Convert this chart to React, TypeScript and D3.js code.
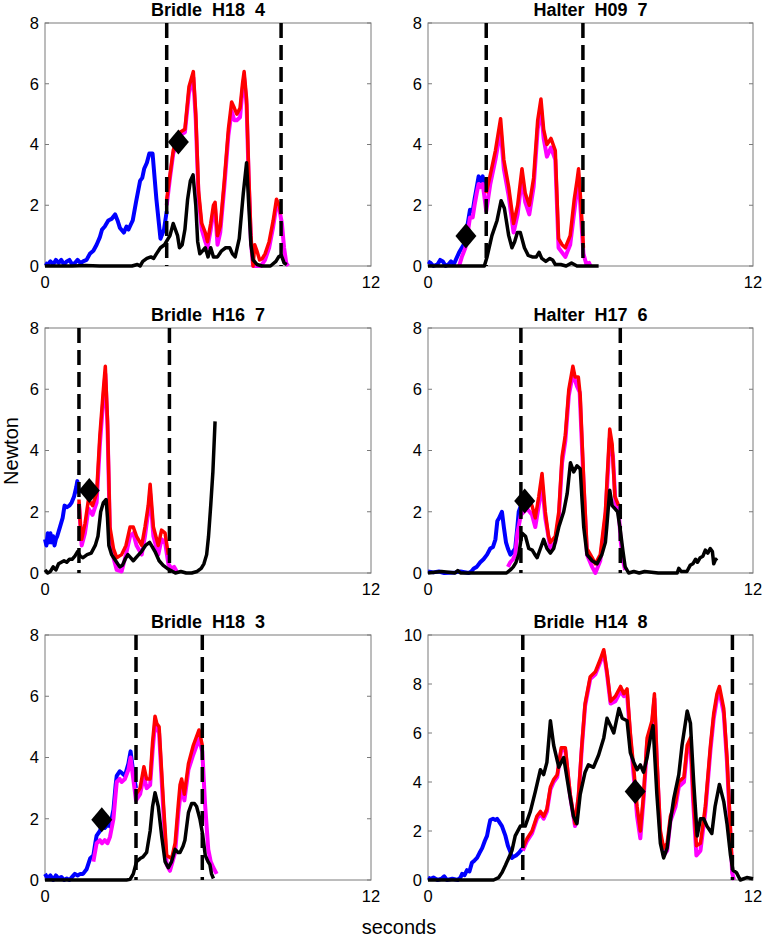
import React from "react";
import * as d3 from "d3";

type Pt = [number, number];

// ---------- data (seconds, Newton) ----------
const titles = ["Bridle  H18  4", "Halter  H09  7", "Bridle  H16  7", "Halter  H17  6", "Bridle  H18  3", "Bridle  H14  8"];
const yMaxes = [8, 8, 8, 8, 8, 10];
const xTicks = [0, 12];

const blue1: Pt[] = [[0,0.1],[0.1,0.05],[0.2,0.15],[0.3,0.05],[0.4,0.2],[0.5,0.1],[0.6,0.2],[0.7,0.05],[0.8,0.15],[0.9,0.2],[1.0,0.05],[1.1,0.1],[1.2,0.2],[1.3,0.1],[1.4,0.15],[1.53,0.2],[1.65,0.4],[1.78,0.5],[1.9,0.7],[2.02,0.95],[2.1,1.2],[2.2,1.3],[2.33,1.5],[2.45,1.55],[2.58,1.7],[2.67,1.5],[2.76,1.25],[2.9,1.1],[3.0,1.3],[3.07,1.2],[3.15,1.35],[3.23,1.5],[3.35,2.1],[3.5,2.8],[3.58,2.9],[3.65,3.2],[3.75,3.4],[3.84,3.7],[3.96,3.7],[4.1,2.2],[4.25,0.9],[4.38,1.2],[4.48,1.8]];
const magenta1: Pt[] = [[4.48,2.0],[4.6,2.9],[4.72,3.7],[4.97,4.3],[5.15,4.4],[5.3,5.7],[5.46,6.2],[5.55,4.8],[5.65,2.3],[5.77,1.2],[5.9,0.8],[5.98,0.6],[6.1,1.2],[6.2,1.8],[6.26,1.9],[6.35,0.7],[6.45,1.1],[6.6,2.6],[6.75,4.3],[6.87,5.1],[6.97,4.8],[7.06,4.8],[7.18,4.9],[7.27,5.8],[7.33,6.2],[7.42,5.3],[7.5,2.8],[7.58,0.8],[7.66,0.0],[7.8,0.0],[7.95,0.0],[8.1,0.2],[8.25,0.6],[8.4,1.3],[8.52,2.0],[8.62,1.9],[8.72,1.4],[8.8,0.6],[8.88,0.1],[8.95,0.0]];
const red1: Pt[] = [[4.48,2.2],[4.6,3.0],[4.72,3.8],[4.85,4.2],[4.97,4.4],[5.15,4.5],[5.3,5.9],[5.46,6.4],[5.55,5.0],[5.65,2.5],[5.77,1.4],[5.9,1.1],[5.98,0.8],[6.1,1.4],[6.2,2.0],[6.26,2.1],[6.35,1.0],[6.45,1.3],[6.6,2.8],[6.75,4.5],[6.87,5.4],[6.97,5.2],[7.06,5.0],[7.18,5.2],[7.27,6.0],[7.33,6.4],[7.42,5.5],[7.5,3.0],[7.58,1.0],[7.66,0.0],[7.72,0.7],[7.8,0.5],[7.9,0.2],[8.0,0.25],[8.1,0.4],[8.25,0.8],[8.4,1.5],[8.52,2.2],[8.62,2.0],[8.69,1.7]];
const black1: Pt[] = [[0,0],[1.0,0],[1.5,0.02],[2.0,0],[3.2,0],[3.4,0.05],[3.5,0.0],[3.6,0.15],[3.75,0.25],[3.9,0.3],[4.0,0.25],[4.1,0.4],[4.25,0.6],[4.4,0.7],[4.5,0.85],[4.6,1.0],[4.72,1.4],[4.8,1.2],[4.88,1.0],[4.95,0.6],[5.05,0.7],[5.15,1.2],[5.25,2.2],[5.35,2.8],[5.45,3.0],[5.55,2.0],[5.62,0.8],[5.7,0.4],[5.8,0.5],[5.9,0.6],[6.0,0.3],[6.1,0.6],[6.2,0.3],[6.35,0.3],[6.5,0.5],[6.65,0.6],[6.8,0.6],[6.9,0.4],[7.0,0.3],[7.15,0.9],[7.3,2.4],[7.42,3.4],[7.5,2.0],[7.58,0.7],[7.66,0.2],[7.8,0.05],[8.0,0.0],[8.3,0.0],[8.5,0.15],[8.6,0.3],[8.7,0.35],[8.8,0.1],[8.9,0.05]];

const blue2: Pt[] = [[0,0.15],[0.1,0.1],[0.2,0.0],[0.35,0.05],[0.45,0.2],[0.55,0.15],[0.65,0.0],[0.75,0.05],[0.85,0.15],[0.95,0.05],[1.05,0.25],[1.15,0.45],[1.25,0.6],[1.38,0.8],[1.45,1.3],[1.55,1.85],[1.65,1.8],[1.72,2.2],[1.8,2.6],[1.87,2.95],[1.95,2.8],[2.02,2.95],[2.08,2.5],[2.15,2.4]];
const magenta2: Pt[] = [[1.15,0.0],[1.25,0.3],[1.38,0.6],[1.45,1.0],[1.55,1.6],[1.65,1.6],[1.72,2.0],[1.8,2.4],[1.87,2.7],[1.95,2.6],[2.02,2.7],[2.08,2.3],[2.15,1.8],[2.3,2.7],[2.49,3.5],[2.68,4.5],[2.8,3.2],[2.98,2.3],[3.16,1.1],[3.31,1.7],[3.47,2.9],[3.59,2.1],[3.74,1.7],[3.9,2.6],[4.05,4.5],[4.17,5.2],[4.27,4.2],[4.39,3.6],[4.54,3.9],[4.7,3.5],[4.82,0.6],[5.07,0.3],[5.25,0.7],[5.5,2.5],[5.56,2.9],[5.68,1.2],[5.74,0.4],[5.85,0.05],[5.95,0.1],[6.0,0.0]];
const red2: Pt[] = [[2.15,2.4],[2.3,3.0],[2.49,3.8],[2.68,4.85],[2.8,3.5],[2.98,2.6],[3.16,1.4],[3.31,2.0],[3.47,3.2],[3.59,2.4],[3.74,2.0],[3.9,2.9],[4.05,4.8],[4.17,5.5],[4.27,4.5],[4.39,4.0],[4.54,4.2],[4.7,3.8],[4.82,0.9],[4.95,0.7],[5.07,0.6],[5.25,1.0],[5.4,2.2],[5.5,2.8],[5.56,3.2],[5.65,2.0],[5.74,0.6]];
const black2: Pt[] = [[0,0],[1.5,0],[2.08,0.0],[2.18,0.3],[2.36,1.0],[2.55,1.5],[2.7,2.15],[2.82,1.9],[2.98,1.0],[3.1,0.6],[3.2,0.8],[3.3,1.1],[3.41,1.1],[3.56,0.6],[3.7,0.35],[3.85,0.3],[4.0,0.3],[4.1,0.45],[4.2,0.25],[4.35,0.15],[4.5,0.25],[4.6,0.2],[4.7,0.05],[4.9,0.05],[5.1,0.0],[5.3,0.1],[5.5,0.0],[6.3,0.0]];

const blue3: Pt[] = [[0,1.1],[0.05,0.9],[0.1,1.3],[0.15,1.0],[0.2,1.3],[0.25,1.0],[0.3,1.2],[0.35,0.9],[0.4,1.1],[0.45,1.2],[0.55,1.5],[0.65,1.8],[0.72,2.2],[0.8,2.15],[0.9,2.2],[0.98,2.3],[1.07,2.5],[1.15,2.8],[1.19,3.0],[1.25,2.6]];
const magenta3: Pt[] = [[1.25,2.3],[1.35,0.9],[1.47,1.3],[1.6,2.1],[1.75,1.9],[1.9,2.3],[2.02,4.2],[2.15,5.7],[2.22,6.5],[2.3,4.8],[2.39,1.3],[2.52,0.5],[2.64,0.1],[2.82,0.05],[2.98,0.6],[3.13,1.2],[3.25,1.3],[3.37,0.9],[3.56,0.6],[3.68,1.2],[3.8,2.0],[3.87,2.6],[3.99,1.2],[4.17,0.6],[4.29,1.1],[4.42,1.0],[4.54,0.3],[4.65,0.15],[4.75,0.2],[4.85,0.05]];
const red3: Pt[] = [[1.25,2.4],[1.3,1.6],[1.35,1.1],[1.47,1.6],[1.6,2.4],[1.75,2.2],[1.9,2.6],[2.02,4.5],[2.15,6.0],[2.22,6.75],[2.3,5.0],[2.39,1.5],[2.52,0.8],[2.64,0.5],[2.82,0.6],[2.98,0.9],[3.13,1.5],[3.25,1.5],[3.37,1.2],[3.56,0.9],[3.68,1.5],[3.8,2.2],[3.87,2.9],[3.99,1.5],[4.17,0.9],[4.29,1.4],[4.42,1.3],[4.54,0.6]];
const black3: Pt[] = [[0,0.1],[0.1,0.0],[0.2,0.05],[0.3,0.2],[0.4,0.1],[0.5,0.3],[0.6,0.35],[0.7,0.4],[0.8,0.35],[0.9,0.45],[1.0,0.45],[1.1,0.55],[1.2,0.7],[1.3,0.55],[1.4,0.5],[1.55,0.6],[1.7,0.65],[1.85,0.9],[1.95,1.2],[2.05,2.0],[2.15,2.3],[2.25,2.4],[2.3,1.8],[2.35,0.9],[2.45,0.6],[2.6,0.4],[2.75,0.2],[2.85,0.25],[2.95,0.45],[3.05,0.6],[3.15,0.5],[3.25,0.4],[3.4,0.55],[3.55,0.7],[3.7,0.9],[3.85,1.0],[3.95,0.85],[4.05,0.7],[4.2,0.4],[4.35,0.25],[4.5,0.15],[4.6,0.1],[4.8,0.0],[5.0,0.05],[5.2,0.0],[5.4,0.0],[5.6,0.05],[5.75,0.15],[5.85,0.3],[5.95,0.6],[6.02,1.2],[6.1,2.2],[6.18,3.3],[6.26,4.95]];

const blue4: Pt[] = [[0,0.05],[0.2,0.02],[0.4,0.05],[0.6,0.0],[1.0,0.02],[1.2,0.05],[1.5,0.0],[1.6,0.05],[1.69,0.15],[1.8,0.2],[1.93,0.35],[2.05,0.45],[2.18,0.6],[2.3,0.8],[2.4,0.85],[2.49,1.1],[2.56,1.7],[2.63,1.8],[2.73,2.0],[2.8,1.5],[2.88,1.0],[2.95,0.8],[3.04,0.6],[3.14,0.7],[3.22,0.8],[3.3,1.5],[3.35,2.0],[3.43,2.2]];
const magenta4: Pt[] = [[2.95,0.2],[3.04,0.35],[3.14,0.45],[3.22,0.6],[3.3,1.3],[3.43,1.9],[3.66,2.1],[3.84,1.9],[3.96,1.5],[4.09,2.2],[4.21,2.9],[4.33,1.8],[4.52,0.8],[4.7,1.0],[4.83,1.8],[4.95,3.6],[5.07,4.3],[5.2,5.8],[5.35,6.5],[5.5,6.1],[5.6,5.9],[5.75,2.8],[5.87,0.6],[6.06,0.2],[6.18,0.0],[6.36,0.4],[6.55,1.8],[6.71,4.4],[6.83,3.8],[6.92,2.3],[7.04,2.0],[7.12,1.0],[7.2,0.4],[7.28,0.1]];
const red4: Pt[] = [[3.43,2.2],[3.55,2.5],[3.66,2.4],[3.84,2.2],[3.96,1.8],[4.09,2.5],[4.21,3.25],[4.33,2.0],[4.45,1.2],[4.52,1.0],[4.7,1.2],[4.83,2.0],[4.95,3.8],[5.07,4.5],[5.2,6.0],[5.35,6.75],[5.43,6.4],[5.55,6.4],[5.62,5.8],[5.75,3.0],[5.87,0.8],[6.06,0.5],[6.18,0.3],[6.36,0.6],[6.55,2.0],[6.71,4.7],[6.8,4.2],[6.9,2.5],[7.04,2.2]];
const black4: Pt[] = [[0,0],[0.5,0.05],[1.0,0],[1.1,0.08],[1.2,0],[2.0,0],[2.9,0.0],[3.04,0.1],[3.15,0.2],[3.25,0.35],[3.35,0.6],[3.47,1.3],[3.6,1.2],[3.72,0.8],[3.85,0.75],[3.95,0.6],[4.03,0.5],[4.15,0.8],[4.27,1.1],[4.39,0.8],[4.52,0.65],[4.64,0.8],[4.75,1.2],[4.83,1.5],[5.01,2.0],[5.14,2.6],[5.26,3.6],[5.38,3.3],[5.5,3.5],[5.62,3.4],[5.68,2.5],[5.75,1.5],[5.87,0.6],[6.06,0.4],[6.24,0.3],[6.42,0.6],[6.55,1.0],[6.6,1.5],[6.71,2.7],[6.8,2.2],[6.9,2.1],[7.0,2.0],[7.1,1.4],[7.2,0.7],[7.28,0.2],[7.41,0.0],[7.6,0.05],[7.8,0.0],[8.0,0.05],[8.5,0.0],[9.2,0.0],[9.26,0.15],[9.35,0.05],[9.56,0.05],[9.68,0.25],[9.78,0.3],[9.88,0.45],[9.95,0.35],[10.05,0.5],[10.15,0.55],[10.24,0.75],[10.33,0.65],[10.42,0.8],[10.5,0.7],[10.55,0.3],[10.62,0.45],[10.67,0.4]];

const blue5: Pt[] = [[0,0.2],[0.1,0.05],[0.2,0.15],[0.3,0.0],[0.4,0.15],[0.5,0.05],[0.6,0.1],[0.7,0.0],[0.8,0.05],[0.9,0.0],[1.0,0.1],[1.1,0.2],[1.2,0.15],[1.3,0.2],[1.4,0.2],[1.53,0.35],[1.66,0.7],[1.78,0.8],[1.85,1.2],[1.9,1.45],[2.02,1.6],[2.1,1.8],[2.2,1.7],[2.3,1.8],[2.39,1.75],[2.52,2.3],[2.6,3.1],[2.64,3.4],[2.75,3.55],[2.82,3.5],[2.94,3.4],[3.07,3.8],[3.15,4.2],[3.25,3.5],[3.35,3.0]];
const magenta5: Pt[] = [[1.78,0.6],[1.9,1.2],[2.02,1.3],[2.1,1.2],[2.2,1.3],[2.3,1.2],[2.39,1.4],[2.52,2.0],[2.64,3.2],[2.75,3.3],[2.82,3.2],[2.94,3.3],[3.07,3.6],[3.15,4.0],[3.25,3.3],[3.35,2.6],[3.5,2.8],[3.64,3.4],[3.74,3.0],[3.87,3.1],[3.96,4.2],[4.05,5.1],[4.2,4.8],[4.36,2.2],[4.48,0.5],[4.6,0.3],[4.79,0.9],[4.91,2.2],[5.03,3.1],[5.13,2.6],[5.28,3.6],[5.46,4.1],[5.67,4.6],[5.79,4.2],[5.89,2.5],[6.01,1.0],[6.1,0.6],[6.2,0.4],[6.32,0.2]];
const red5: Pt[] = [[3.35,2.8],[3.5,3.0],[3.64,3.7],[3.74,3.3],[3.87,3.3],[3.96,4.5],[4.05,5.35],[4.12,5.1],[4.2,5.0],[4.36,2.5],[4.48,0.8],[4.66,0.7],[4.79,1.2],[4.91,2.5],[4.97,3.1],[5.03,3.3],[5.13,2.8],[5.28,3.8],[5.46,4.4],[5.67,4.9],[5.79,4.4]];
const black5: Pt[] = [[0,0],[1.5,0],[2.5,0.0],[3.0,0.0],[3.13,0.02],[3.25,0.2],[3.37,0.6],[3.5,0.7],[3.6,0.75],[3.74,0.9],[3.87,1.6],[3.96,2.4],[4.05,2.85],[4.17,2.4],[4.3,1.4],[4.42,0.6],[4.54,0.4],[4.66,0.6],[4.79,1.0],[4.9,0.9],[4.97,0.9],[5.08,1.1],[5.15,1.3],[5.28,2.2],[5.4,2.5],[5.5,2.5],[5.58,2.4],[5.7,2.0],[5.8,1.5],[5.9,0.8],[6.0,0.6],[6.07,0.5],[6.13,0.2],[6.2,0.05]];

const blue6: Pt[] = [[0,0.1],[0.1,0.05],[0.2,0.1],[0.35,0.0],[0.5,0.05],[0.6,0.15],[0.7,0.0],[0.9,0.05],[1.1,0.0],[1.2,0.1],[1.26,0.25],[1.35,0.2],[1.44,0.4],[1.53,0.35],[1.62,0.7],[1.72,0.8],[1.81,0.9],[1.9,1.1],[2.0,1.3],[2.1,1.6],[2.18,1.8],[2.25,2.2],[2.3,2.45],[2.4,2.5],[2.49,2.45],[2.55,2.5],[2.61,2.4],[2.73,2.2],[2.86,1.8],[2.95,1.4],[3.04,1.15],[3.1,0.9],[3.16,0.95],[3.25,1.0],[3.35,1.1],[3.42,1.2],[3.5,1.3]];
const magenta6: Pt[] = [[3.5,1.2],[3.66,1.6],[3.84,1.9],[4.02,2.5],[4.15,2.7],[4.27,2.5],[4.39,2.8],[4.52,3.7],[4.64,4.0],[4.77,4.2],[4.92,5.3],[5.07,5.3],[5.25,3.4],[5.43,2.2],[5.56,3.4],[5.68,5.4],[5.8,7.1],[5.99,8.2],[6.18,8.4],[6.36,8.9],[6.49,9.3],[6.61,8.4],[6.74,7.2],[6.92,7.3],[7.11,7.7],[7.23,7.5],[7.35,7.6],[7.47,5.8],[7.6,4.2],[7.72,2.6],[7.84,1.7],[7.96,3.3],[8.09,5.6],[8.27,6.3],[8.36,7.4],[8.45,4.8],[8.58,1.8],[8.7,1.0],[8.83,1.2],[8.95,2.4],[9.14,3.0],[9.26,3.8],[9.45,4.0],[9.57,5.3],[9.69,5.6],[9.79,3.2],[9.91,1.0],[10.06,1.2],[10.24,2.8],[10.43,5.3],[10.55,6.6],[10.67,7.4],[10.76,7.7],[10.92,6.8],[11.04,4.8],[11.17,1.8],[11.23,0.3],[11.3,0.0]];
const red6: Pt[] = [[3.5,1.3],[3.66,1.7],[3.84,2.0],[4.02,2.6],[4.15,2.8],[4.27,2.6],[4.39,2.9],[4.52,3.8],[4.64,4.1],[4.77,4.3],[4.92,5.4],[5.07,5.4],[5.25,3.5],[5.43,2.3],[5.56,3.5],[5.68,5.5],[5.8,7.2],[5.99,8.3],[6.18,8.5],[6.36,9.0],[6.49,9.4],[6.61,8.5],[6.74,7.3],[6.92,7.5],[7.11,7.9],[7.23,7.6],[7.35,7.8],[7.47,6.0],[7.6,4.5],[7.72,3.0],[7.84,2.0],[7.96,3.5],[8.09,5.8],[8.27,6.5],[8.36,7.6],[8.45,5.0],[8.58,2.0],[8.7,1.3],[8.83,1.5],[8.95,2.6],[9.14,3.2],[9.26,4.0],[9.45,4.2],[9.57,5.5],[9.69,5.8],[9.79,3.5],[9.91,1.4],[10.06,1.5],[10.24,3.0],[10.43,5.5],[10.55,6.8],[10.67,7.6],[10.76,7.9],[10.92,7.0],[11.04,5.0],[11.17,2.0],[11.23,0.6]];
const black6: Pt[] = [[0,0],[1.0,0.0],[2.0,0.0],[2.42,0.0],[2.61,0.1],[2.73,0.3],[2.86,0.6],[2.98,0.9],[3.1,1.2],[3.22,1.8],[3.41,2.2],[3.59,2.2],[3.78,2.8],[3.96,3.6],[4.15,4.5],[4.27,4.3],[4.39,4.8],[4.52,6.5],[4.64,5.5],[4.83,4.6],[5.01,5.0],[5.2,3.7],[5.37,2.6],[5.5,2.3],[5.62,3.5],[5.8,4.4],[5.92,4.7],[6.11,4.6],[6.3,5.1],[6.49,5.8],[6.61,6.6],[6.74,6.3],[6.86,6.0],[7.05,7.0],[7.17,6.6],[7.35,6.5],[7.47,5.2],[7.6,4.8],[7.72,4.5],[7.84,4.7],[7.96,4.4],[8.09,5.0],[8.21,5.8],[8.31,6.3],[8.45,3.5],[8.58,1.5],[8.7,0.9],[8.83,1.3],[8.95,2.4],[9.07,3.3],[9.26,4.3],[9.38,5.5],[9.57,6.9],[9.69,6.4],[9.81,4.0],[9.94,1.8],[10.06,2.5],[10.18,2.5],[10.3,2.2],[10.48,1.9],[10.6,3.0],[10.76,3.9],[10.92,3.2],[11.04,2.3],[11.17,1.0],[11.26,0.4],[11.39,0.3],[11.53,0.0],[11.77,0.1],[12.0,0.05]];

const dashes: Pt[] = [[4.48, 8.69], [2.15, 5.72], [1.25, 4.58], [3.43, 7.1], [3.35, 5.79], [3.5, 11.24]];
const diamonds: Pt[] = [[4.91, 4.08], [1.4, 0.99], [1.63, 2.69], [3.57, 2.35], [2.09, 1.97], [7.65, 3.61]];

const blues = [blue1, blue2, blue3, blue4, blue5, blue6];
const magentas = [magenta1, magenta2, magenta3, magenta4, magenta5, magenta6];
const reds = [red1, red2, red3, red4, red5, red6];
const blacks = [black1, black2, black3, black4, black5, black6];

// ---------- layout ----------
const W = 765;
const H = 939;
const colX: [number, number][] = [[45, 371], [428, 753]];
const rowY: [number, number][] = [[23, 266], [328, 573], [635, 880]];
const FONT = "'Liberation Sans', Arial, Helvetica, sans-serif";
const BOX = "#7a7a7a";

function Panel({ i }: { i: number }) {
  const [x0, x1] = colX[i % 2];
  const [y0, y1] = rowY[Math.floor(i / 2)];
  const yMax = yMaxes[i];
  const x = d3.scaleLinear().domain([0, 12]).range([x0, x1]);
  const y = d3.scaleLinear().domain([0, yMax]).range([y1, y0]);
  const line = d3.line<Pt>().x((d) => x(d[0])).y((d) => y(d[1]));
  const yTicks = d3.range(0, yMax + 0.001, 2);
  const [dx, dy] = diamonds[i];
  const cx = x(dx);
  const cy = y(dy);
  return (
    <g>
      <text x={(x0 + x1) / 2} y={y0 - 7} textAnchor="middle" fontFamily={FONT} fontWeight="bold" fontSize={18} style={{ whiteSpace: "pre" }} xmlSpace="preserve">
        {titles[i]}
      </text>
      <rect x={x0} y={y0} width={x1 - x0} height={y1 - y0} fill="white" stroke={BOX} strokeWidth={1} />
      {yTicks.map((t) => (
        <g key={t}>
          <line x1={x0} x2={x0 + 4} y1={y(t)} y2={y(t)} stroke={BOX} />
          <line x1={x1 - 4} x2={x1} y1={y(t)} y2={y(t)} stroke={BOX} />
          <text x={x0 - 6} y={y(t)} dy="0.36em" textAnchor="end" fontFamily={FONT} fontSize={16.5}>
            {t}
          </text>
        </g>
      ))}
      {xTicks.map((t) => (
        <text key={t} x={x(t)} y={y1 + 22} textAnchor="middle" fontFamily={FONT} fontSize={16.5}>
          {t}
        </text>
      ))}
      <path d={line(blues[i]) || ""} fill="none" stroke="#0000ff" strokeWidth={4} strokeLinejoin="round" />
      <path d={line(magentas[i]) || ""} fill="none" stroke="#ff00ff" strokeWidth={4} strokeLinejoin="round" />
      <path d={line(reds[i]) || ""} fill="none" stroke="#ff0000" strokeWidth={3.5} strokeLinejoin="round" />
      <path d={line(blacks[i]) || ""} fill="none" stroke="#000000" strokeWidth={3.5} strokeLinejoin="round" />
      {dashes[i].map((t, k) => (
        <line key={k} x1={x(t)} x2={x(t)} y1={y0} y2={y1} stroke="#000" strokeWidth={3.5} strokeDasharray="15,7" />
      ))}
      <path d={`M${cx},${cy - 12.5} L${cx + 10.5},${cy} L${cx},${cy + 12.5} L${cx - 10.5},${cy} Z`} fill="#000" />
    </g>
  );
}

export default function App() {
  return (
    <svg width={W} height={H} viewBox={`0 0 ${W} ${H}`} style={{ position: "absolute", left: 0, top: 0, background: "white" }}>
      <rect width={W} height={H} fill="white" />
      {d3.range(6).map((i) => (
        <Panel key={i} i={i} />
      ))}
      <text transform="translate(18,451) rotate(-90)" textAnchor="middle" fontFamily={FONT} fontSize={20}>
        Newton
      </text>
      <text x={399} y={934} textAnchor="middle" fontFamily={FONT} fontSize={20}>
        seconds
      </text>
    </svg>
  );
}
